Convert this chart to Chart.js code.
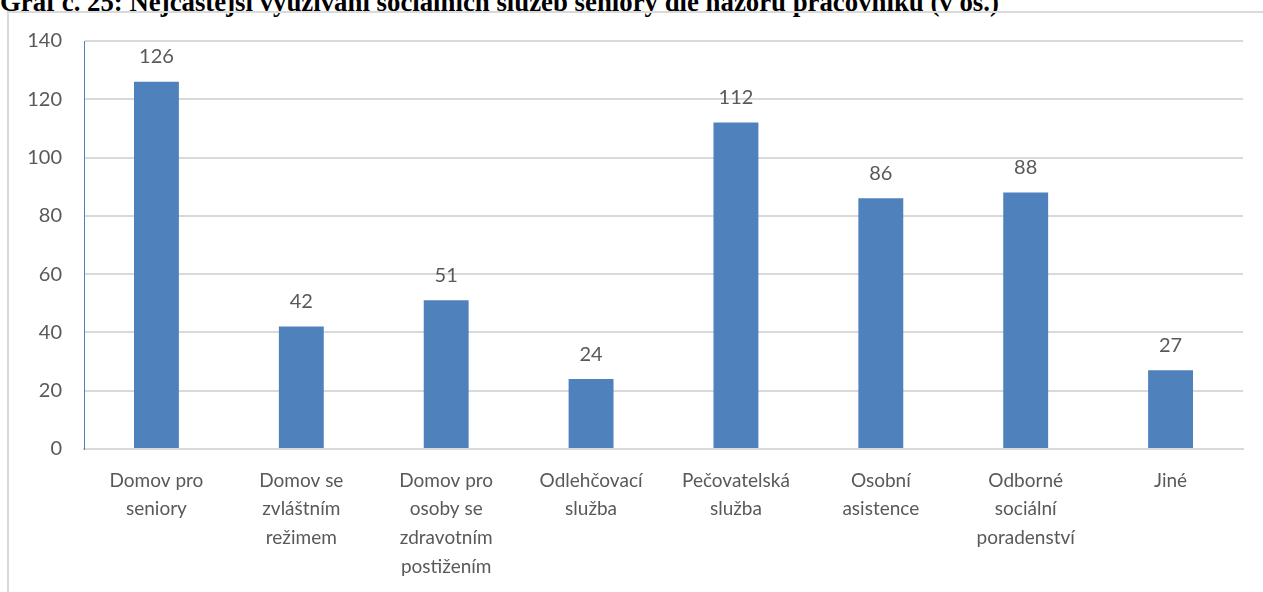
<!DOCTYPE html>
<html>
<head>
<meta charset="utf-8">
<script src="https://cdn.jsdelivr.net/npm/chart.js"></script>
<style>
  html, body { margin: 0; padding: 0; background: #fff; overflow: hidden; }
  body { width: 1263px; height: 592px; position: relative; }
  #title {
    position: absolute; left: 0; top: -13px; white-space: nowrap; line-height: 26px;
    font: bold 26.8px "Liberation Serif", "Times New Roman", serif; color: #000;
  }
  #frame {
    position: absolute; left: 7px; top: 11px; width: 1300px; height: 700px;
    border-left: 2px solid #d9d9d9; border-top: 2px solid #d9d9d9;
  }
  #wrap { position: absolute; left: 0; top: 0; width: 1263px; height: 592px; }
</style>
</head>
<body>
<div id="title">Graf č. 25: Nejčastější využívání sociálních služeb seniory dle názoru pracovníků (v os.)</div>
<div id="frame"></div>
<div id="wrap"><canvas id="chart" width="1263" height="592"></canvas></div>
<script>
// kategorie (víceřádkové popisky)
const categories = [
  ["Domov pro", "seniory"],
  ["Domov se", "zvláštním", "režimem"],
  ["Domov pro", "osoby se", "zdravotním", "postižením"],
  ["Odlehčovací", "služba"],
  ["Pečovatelská", "služba"],
  ["Osobní", "asistence"],
  ["Odborné", "sociální", "poradenství"],
  ["Jiné"]
];

// počet odpovědí
const counts = [126, 42, 51, 24, 112, 86, 88, 27];

// osa Y
const yMin = 0;
const yMax = 140;
const yStep = 20;

const textColor = "#595959";
const barColor = "#4f81bd";
const gridColor = "#d9d9d9";

// popisky hodnot nad sloupci
const valueLabels = {
  id: "valueLabels",
  afterDatasetsDraw(chart) {
    const ctx = chart.ctx;
    const meta = chart.getDatasetMeta(0);
    ctx.save();
    ctx.font = '20px Lato, "Open Sans", sans-serif';
    ctx.fillStyle = textColor;
    ctx.textAlign = "center";
    ctx.textBaseline = "middle";
    meta.data.forEach(function (bar, i) {
      ctx.fillText(String(chart.data.datasets[0].data[i]), bar.x, bar.y - 25);
    });
    ctx.restore();
  }
};

const ctx = document.getElementById("chart").getContext("2d");

new Chart(ctx, {
  type: "bar",
  data: {
    labels: categories,
    datasets: [
      {
        data: counts,
        backgroundColor: barColor,
        borderWidth: 0,
        barPercentage: 1,
        categoryPercentage: 0.31
      }
    ]
  },
  options: {
    responsive: false,
    animation: false,
    layout: { padding: { left: 0, top: 41, right: 20, bottom: 0 } },
    plugins: {
      legend: { display: false },
      tooltip: { enabled: false }
    },
    scales: {
      x: {
        grid: { display: false, drawTicks: false },
        border: { color: gridColor, width: 2 },
        ticks: {
          color: textColor,
          font: { family: 'Lato, "Open Sans", sans-serif', size: 19, lineHeight: 1.52 },
          padding: 17,
          maxRotation: 0,
          autoSkip: false
        },
        afterFit(axis) { axis.height = 143; }
      },
      y: {
        min: yMin,
        max: yMax,
        grid: { color: gridColor, lineWidth: 2, drawTicks: false },
        border: { color: barColor, width: 1 },
        ticks: {
          stepSize: yStep,
          color: textColor,
          font: { family: 'Lato, "Open Sans", sans-serif', size: 20 },
          padding: 22
        },
        afterFit(axis) { axis.width = 84; }
      }
    }
  },
  plugins: [valueLabels]
});
</script>
</body>
</html>
